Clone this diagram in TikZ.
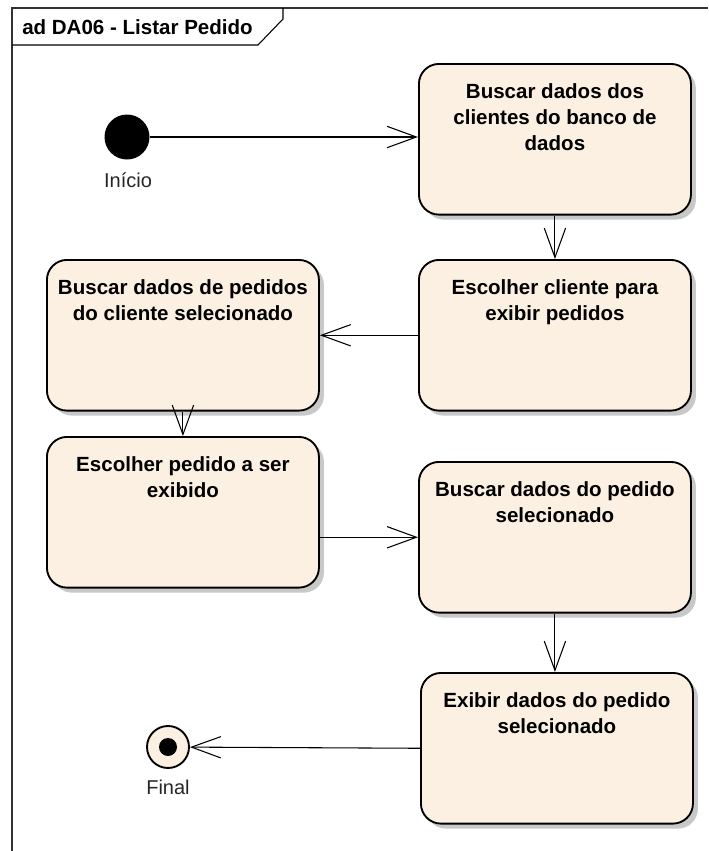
\documentclass[tikz,border=0pt]{standalone}
\usepackage{fontspec}
\setmainfont{Liberation Sans}
\usetikzlibrary{arrows.meta, positioning, shadows}
\definecolor{actfill}{RGB}{251,240,225}
\definecolor{shadowgray}{RGB}{200,200,200}

\begin{document}
\begin{tikzpicture}[x=0.75pt, y=-0.75pt,
  act/.style={draw, line width=1.4pt, rounded corners=15pt, fill=actfill,
    minimum width=204pt, minimum height=113pt, inner sep=0pt, anchor=north west,
    drop shadow={shadow xshift=3.75pt, shadow yshift=-3.75pt, fill=shadowgray, opacity=1}},
  acttext/.style={inner sep=0pt, align=center, font=\bfseries\fontsize{15.4pt}{19.5pt}\selectfont},
  flow/.style={line width=0.8pt, -{Straight Barb[length=22pt, width=16pt, line width=0.8pt]}},
  lbl/.style={inner sep=0pt, anchor=base, font=\fontsize{15pt}{18pt}\selectfont, text=black!85}]

\useasboundingbox (0,0) rectangle (708,851);

% frame and title tab
\draw[line width=0.8pt, black!80] (12,851) -- (12,8) -- (708,8);
\draw[line width=0.8pt] (12,45) -- (258,45) -- (283,19) -- (283,8);
\node[acttext, anchor=base west] (title) at (22,34) {ad DA06 - Listar Pedido};

% start / end
\node[circle, fill=black, minimum size=33.75pt, inner sep=0pt] (ini) at (127,137) {};
\node[lbl] (iniL) at (128,187) {Início};
\node[circle, draw, line width=1.4pt, fill=actfill, minimum size=31.5pt, inner sep=0pt] (fin) at (168,747) {};
\fill (fin) circle (6.75pt);
\node[lbl] (finL) at (168,794) {Final};

% activities
\node[act] (a1) at (418,63) {};
\node[acttext, below=15.5pt of a1.north] (a1t) {Buscar dados dos\\clientes do banco de\\dados};
\node[act] (a2) at (418,259) {};
\node[acttext, below=15.5pt of a2.north] (a2t) {Escolher cliente para\\exibir pedidos};
\node[act] (a3) at (46,259) {};
\node[acttext, below=15.5pt of a3.north] (a3t) {Buscar dados de pedidos\\do cliente selecionado};
\node[act] (a4) at (46,436) {};
\node[acttext, below=15.5pt of a4.north] (a4t) {Escolher pedido a ser\\exibido};
\node[act] (a5) at (418,461) {};
\node[acttext, below=15.5pt of a5.north] (a5t) {Buscar dados do pedido\\selecionado};
\node[act] (a6) at (420,672) {};
\node[acttext, below=15.5pt of a6.north] (a6t) {Exibir dados do pedido\\selecionado};

% flows
\draw[flow] (ini) -- (ini -| a1.west);
\draw[flow] (a1) -- (a2);
\draw[flow] (a2) -- (a3);
\draw[flow] (a3) -- (a4);
\draw[flow] (a4.east |- a5) -- (a5.west);
\draw[flow] (a5.south) -- (a5.south |- a6.north);
\draw[flow] (a6.west) -- (fin);
\end{tikzpicture}
\end{document}
